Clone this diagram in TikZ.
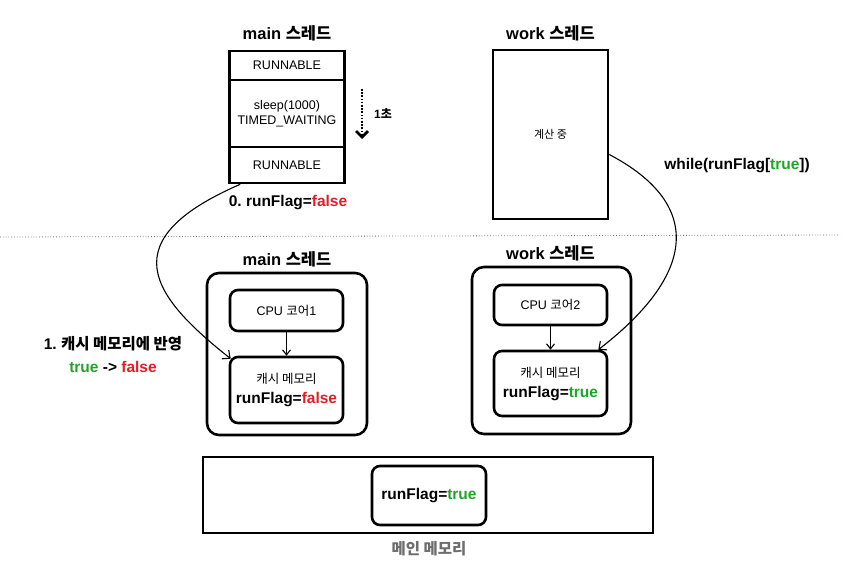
\documentclass[tikz,border=0pt]{standalone}
\usepackage{fontspec}
\setmainfont{Liberation Sans}
\newfontfamily\kr{Noto Sans CJK KR}
\usetikzlibrary{arrows.meta}
\frenchspacing
\definecolor{fgreen}{RGB}{30,165,40}
\definecolor{fred}{RGB}{225,30,35}
\definecolor{fgray}{RGB}{110,110,110}
\newcommand{\ko}[1]{{\kr #1}}
\newcommand{\labfont}{\fontsize{15.5}{19}\selectfont\bfseries}
\newcommand{\headfont}{\fontsize{16.5}{19}\selectfont\bfseries}
\newcommand{\boxfont}{\fontsize{12.5}{15}\selectfont}
\newcommand{\tval}{\textcolor{fgreen}{true}}
\newcommand{\fval}{\textcolor{fred}{false}}

\begin{document}
\begin{tikzpicture}[x=1pt,y=-1pt,
  box/.style={draw,line width=2.6pt,fill=white,inner sep=0pt,align=center,font=\boxfont},
  rbox/.style={box,rounded corners=8pt},
  obox/.style={box,rounded corners=12pt},
  conn/.style={line width=1.1pt,-{Straight Barb[length=6pt,width=11pt]}}]
  \useasboundingbox (0,0) rectangle (851,567);
  \node[font=\headfont] (mt) at (287,33) {main \ko{스레드}};
  \node[box,minimum width=115pt,minimum height=29pt] (r1) at (287,65.5) {RUNNABLE};
  \node[box,minimum width=115pt,minimum height=67pt] (sl) at (287,113.5) {sleep(1000)\\TIMED\_WAITING};
  \node[box,minimum width=115pt,minimum height=36pt] (r2) at (287,165) {RUNNABLE};
  \coordinate (s1) at (362,89); \coordinate (s2) at (362,139);
  \draw[line width=2.8pt,dash pattern=on 1.6pt off 1.6pt,-{Straight Barb[length=6pt,width=12pt]}] (s1) -- (s2);
  \node[font=\fontsize{12}{14}\selectfont\bfseries] (sec) at (383,113) {1\ko{초}};
  \node[font=\labfont] (rf0) at (288,203) {0. runFlag=\fval};
  \node[font=\headfont] (wt) at (550.5,33) {work \ko{스레드}};
  \node[box,minimum width=115pt,minimum height=169pt,font=\fontsize{11}{13}\selectfont] (wb) at (550.5,134.5) {\ko{계산 중}};
  \node[font=\labfont] (wl) at (737,166) {while(runFlag[\tval])};
  \coordinate (d1) at (0,237); \coordinate (d2) at (840,235);
  \draw[fgray,dotted,line width=0.8pt] (d1) -- (d2);
  \node[font=\headfont] (mt2) at (287,259) {main \ko{스레드}};
  \node[obox,minimum width=160pt,minimum height=162pt] (o1) at (287,354) {};
  \node[rbox,minimum width=113pt,minimum height=41pt] (p1) at (286.5,310.5) {CPU \ko{코어}1};
  \node[rbox,minimum width=113pt,minimum height=66pt] (c1) at (286.5,390) {\ko{캐시 메모리}\\[5pt]{\labfont runFlag=\fval}};
  \draw[conn,-{Straight Barb[length=5pt,width=8pt]}] (p1) -- (c1);
  \node[font=\labfont,align=center] (st1) at (113,355) {1. \ko{캐시 메모리에 반영}\\[4pt]\tval{} -> \fval};
  \node[font=\headfont] (wt2) at (550.5,253) {work \ko{스레드}};
  \node[obox,minimum width=159pt,minimum height=167pt] (o2) at (551.5,350.5) {};
  \node[rbox,minimum width=113pt,minimum height=40pt] (p2) at (550.5,305) {CPU \ko{코어}2};
  \node[rbox,minimum width=113pt,minimum height=65pt] (c2) at (550.5,383.5) {\ko{캐시 메모리}\\[5pt]{\labfont runFlag=\tval}};
  \draw[conn,-{Straight Barb[length=5pt,width=8pt]}] (p2) -- (c2);
  \node[box,line width=2.4pt,minimum width=450pt,minimum height=76pt] (mem) at (428,495) {};
  \node[rbox,minimum width=114pt,minimum height=59pt,font=\labfont] (mf) at (429,495.5) {runFlag=\tval};
  \node[font=\labfont,text=fgray] (ml) at (429,549) {\ko{메인 메모리}};
  \draw[conn] ([xshift=12pt]r2.south west) .. controls (112,240) and (150,295) .. ([xshift=2pt,yshift=-3pt]c1.north west);
  \draw[conn] ([yshift=-20pt]wb.east) .. controls (705,205) and (695,275) .. ([xshift=-10pt]c2.north east);
\end{tikzpicture}
\end{document}
